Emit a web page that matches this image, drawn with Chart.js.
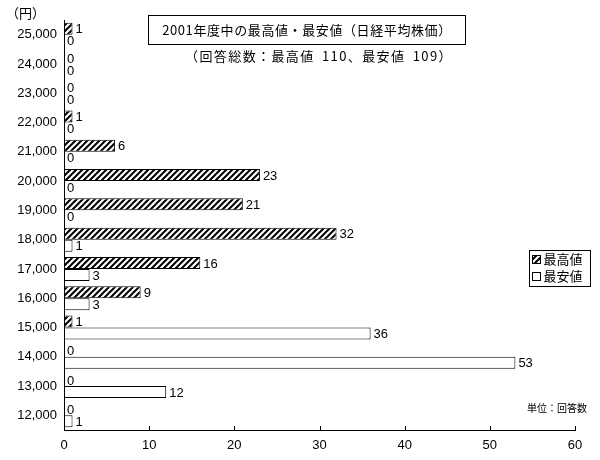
<!DOCTYPE html>
<html>
<head>
<meta charset="utf-8">
<script src="https://cdn.jsdelivr.net/npm/chart.js@4"></script>
<style>
  body { margin: 0; padding: 0; background: #fff; }
  #wrap { position: relative; width: 600px; height: 460px; font-family: "Noto Sans CJK JP", sans-serif; color: #000; }
  #title { position: absolute; left: 148px; top: 15px; width: 316px; height: 28px; border: 1px solid #000;
           font-size: 13px; line-height: 28px; text-align: center; letter-spacing: 0.6px; }
  #sub { position: absolute; left: 160px; top: 46px; width: 318px; font-size: 13px; text-align: center; letter-spacing: 1.4px; word-spacing: 3px; }
  #yen { position: absolute; left: 6px; top: 3px; font-size: 13px; }
  #unit { position: absolute; left: 527px; top: 400px; font-size: 10px; }
  .ax { position: absolute; background: #000; }
</style>
</head>
<body>
<div id="wrap">
  <canvas id="myChart" width="600" height="460"></canvas>
  <div id="title">2001年度中の最高値・最安値（日経平均株価）</div>
  <div id="sub">（回答総数：最高値 110、最安値 109）</div>
  <div id="yen">（円）</div>
  <div id="unit">単位：回答数</div>
</div>
<script>
const categories = ['25,000', '24,000', '23,000', '22,000', '21,000', '20,000', '19,000',
                    '18,000', '17,000', '16,000', '15,000', '14,000', '13,000', '12,000'];
const highValues = [1, 0, 0, 1, 6, 23, 21, 32, 16, 9, 1, 0, 0, 0];
const lowValues  = [0, 0, 0, 0, 0, 0, 0, 1, 3, 3, 36, 53, 12, 1];
const xTicks = [0, 10, 20, 30, 40, 50, 60];

const numFont = '13px "Liberation Sans", sans-serif';

function hatch() {
  const s = 6;
  const c = document.createElement('canvas');
  c.width = s; c.height = s;
  const g = c.getContext('2d');
  g.fillStyle = '#fff';
  g.fillRect(0, 0, s, s);
  g.strokeStyle = '#000';
  g.lineWidth = 2;
  g.beginPath();
  g.moveTo(0, s); g.lineTo(s, 0);
  g.moveTo(-1, 1); g.lineTo(1, -1);
  g.moveTo(s - 1, s + 1); g.lineTo(s + 1, s - 1);
  g.stroke();
  return g.createPattern(c, 'repeat');
}

const ctx = document.getElementById('myChart');
const hatchFill = hatch();

// value labels and the legend box
const extras = {
  id: 'extras',
  afterDraw(chart) {
    const c = chart.ctx;
    c.save();
    c.font = numFont;
    c.fillStyle = '#000';
    c.textBaseline = 'middle';
    c.textAlign = 'left';
    chart.data.datasets.forEach((ds, i) => {
      chart.getDatasetMeta(i).data.forEach((bar, j) => {
        c.fillText(String(ds.data[j]), bar.x + 3, bar.y + 1);
      });
    });

    const lx = 529.5, ly = 250.5, lw = 61, lh = 36;
    c.strokeStyle = '#000';
    c.lineWidth = 1;
    c.fillStyle = '#fff';
    c.fillRect(lx, ly, lw, lh);
    c.strokeRect(lx, ly, lw, lh);
    c.font = '13px "Noto Sans CJK JP", sans-serif';
    chart.data.datasets.forEach((ds, i) => {
      const yy = ly + 9 + i * 17;
      c.fillStyle = ds.backgroundColor;
      c.fillRect(lx + 3, yy - 4, 8, 8);
      c.strokeRect(lx + 3, yy - 4, 8, 8);
      c.fillStyle = '#000';
      c.fillText(ds.label, lx + 14, yy);
    });
    c.restore();
  }
};

const chart = new Chart(ctx, {
  type: 'bar',
  data: {
    labels: categories,
    datasets: [
      { label: '最高値', data: highValues, backgroundColor: hatchFill, borderColor: '#000', borderWidth: 1 },
      { label: '最安値', data: lowValues, backgroundColor: '#fff', borderColor: '#000', borderWidth: 1 }
    ]
  },
  options: {
    indexAxis: 'y',
    responsive: false,
    animation: false,
    layout: { padding: { left: 0, right: 25, top: 20, bottom: 0 } },
    datasets: { bar: { categoryPercentage: 0.82, barPercentage: 1 } },
    plugins: { legend: { display: false }, tooltip: { enabled: false } },
    scales: {
      x: {
        min: 0, max: 60,
        ticks: { stepSize: 10, color: '#000', font: { family: '"Liberation Sans", sans-serif', size: 13 }, padding: 8 },
        grid: { display: false, drawTicks: false },
        border: { display: false },
        afterFit(s) { s.height = 30; }
      },
      y: {
        ticks: { color: '#000', font: { family: '"Liberation Sans", sans-serif', size: 13 }, padding: 7 },
        grid: { display: false, drawTicks: false },
        border: { display: false },
        afterFit(s) { s.width = 64; }
      }
    }
  },
  plugins: [extras]
});

// axis lines and inward ticks as overlay elements, placed from the chart's scales
(function addAxes() {
  const wrap = document.getElementById('wrap');
  const a = chart.chartArea;
  const left = Math.round(a.left), top = Math.round(a.top);
  const bottom = Math.round(a.bottom), right = Math.round(a.right);
  function line(x, y, w, h) {
    const d = document.createElement('div');
    d.className = 'ax';
    d.style.left = x + 'px'; d.style.top = y + 'px';
    d.style.width = w + 'px'; d.style.height = h + 'px';
    wrap.appendChild(d);
  }
  line(left, top, 1, bottom - top + 1);
  line(left, bottom, right - left + 1, 1);
  xTicks.forEach(v => {
    const px = Math.round(chart.scales.x.getPixelForValue(v));
    line(Math.min(px, right), bottom - 4, 1, 4);
  });
})();
</script>
</body>
</html>
